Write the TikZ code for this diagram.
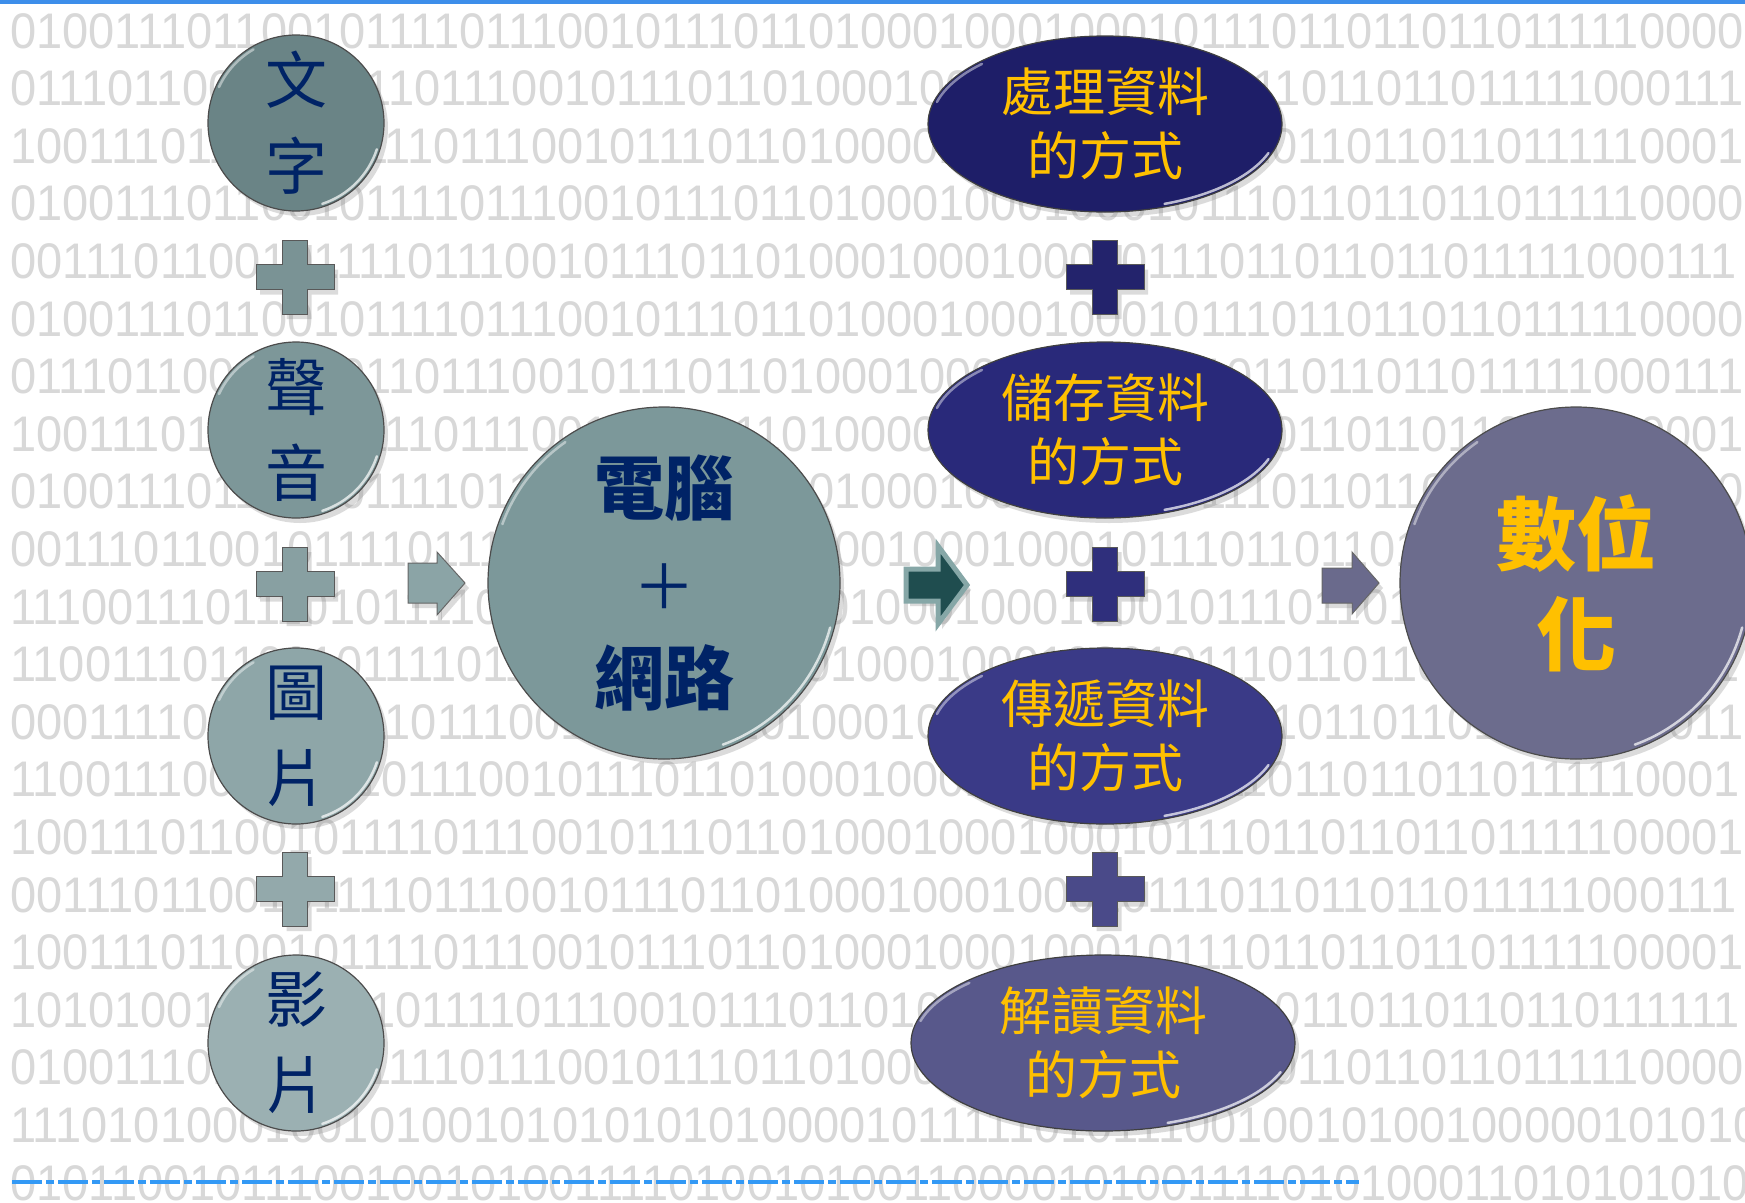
\documentclass[tikz,border=0pt]{standalone}
\usepackage{fontspec}
\newfontfamily\digfont[FakeStretch=0.94]{Liberation Sans}
\newfontfamily\cjk{Noto Sans CJK TC}
\usetikzlibrary{shapes.geometric,shadows}
\definecolor{digitgray}{HTML}{D8D8D8}
\definecolor{navytext}{HTML}{002366}
\definecolor{goldtext}{HTML}{FFC000}
\definecolor{topblue}{HTML}{3D8EEA}
\definecolor{dashblue}{HTML}{3399F5}
\definecolor{lA}{HTML}{6A8486}
\definecolor{pA}{HTML}{7A9395}
\definecolor{lB}{HTML}{7D9799}
\definecolor{pB}{HTML}{88A0A2}
\definecolor{lC}{HTML}{8EA6A8}
\definecolor{pC}{HTML}{93A9AB}
\definecolor{lD}{HTML}{9BB0B2}
\definecolor{bigteal}{HTML}{7C989A}
\definecolor{arrA}{HTML}{8BA4A6}
\definecolor{arrBfill}{HTML}{1F4D4F}
\definecolor{arrBdraw}{HTML}{86A7A7}
\definecolor{rA}{HTML}{1E1E68}
\definecolor{rpA}{HTML}{23236C}
\definecolor{rB}{HTML}{29297A}
\definecolor{rpB}{HTML}{2F2F7C}
\definecolor{rC}{HTML}{3A3A87}
\definecolor{rpC}{HTML}{4A4A89}
\definecolor{rD}{HTML}{58588B}
\definecolor{arrC}{HTML}{6A6A8C}
\definecolor{digcirc}{HTML}{6C6C8D}
\newcommand\mycross[3]{%
  \filldraw[crossbase,fill=#3,shift={(#1,#2)}] (-12.5,-37) -- (12.5,-37) -- (12.5,-12.5) -- (39,-12.5) -- (39,12.5) -- (12.5,12.5) -- (12.5,37) -- (-12.5,37) -- (-12.5,12.5) -- (-39,12.5) -- (-39,-12.5) -- (-12.5,-12.5) -- cycle;}
\tikzset{
  digits/.style={anchor=base west, inner sep=0pt, text=digitgray, font=\digfont\fontsize{50}{50}\selectfont},
  shapeshadow/.style={drop shadow={opacity=0.28, shadow xshift=4pt, shadow yshift=-5pt}},
  lcirc/.style={circle, minimum size=176pt, inner sep=0pt, draw=black!70, line width=1.2pt, shapeshadow, align=center, text=navytext, font=\cjk\fontsize{62}{86}\selectfont},
  bigcirc/.style={circle, minimum size=352pt, inner sep=0pt, draw=black!70, line width=1.2pt, shapeshadow, align=center},
  rell/.style={ellipse, minimum width=354pt, minimum height=176pt, inner sep=0pt, draw=black!75, line width=1.2pt, shapeshadow, align=center, text=goldtext, font=\cjk\fontsize{52}{64}\selectfont},
  rim/.style={draw=white, draw opacity=0.7, line width=2.5pt, line cap=round},
  crossbase/.style={draw=black!65, line width=1pt, shapeshadow},
  blockarrow/.style={draw=black!60, line width=1pt, shapeshadow},
}
\begin{document}
\begin{tikzpicture}[x=1pt,y=-1pt]
\useasboundingbox (0,0) rectangle (1745,1202);
\begin{scope}
\clip (0,0) rectangle (1745,1202);
\fill[white] (0,0) rectangle (1745,1202);
% background binary rows
\foreach \r [count=\k from 0] in {
010011101100101111011100101110110100010001000101110110110110111110000,
011101100101001101110010111011010001000100010111011011011011111000111,
100111011001011110111001011101101000010001000101110110110110111110001,
010011101100101111011100101110110100010001000101110110110110111110000,
001110110010111101110010111011010001000100010111011011011011111000111,
010011101100101111011100101110110100010001000101110110110110111110000,
011101100101001101110010111011010001000100010111011011011011111000111,
100111011001011110111001011101101000010001000101110110110110111110001,
010011101100101111011100101110110100010001000101110110110110111110000,
001110110010111101110010111011010001000100010111011011011011111000111,
111001110111010111101110010111011010001000100010111011011011011111000,
110011101100101111011100101110110100010001000101110110110110111110001,
000111101001011101110010111011010001000100010111011011011011111000011,
110011100101111011100101110110100010001000101110110110110110111110001,
100111011001011110111001011101101000100010001011101101101101111100001,
001110110010111101110010111011010001000100010111011011011011111000111,
100111011001011110111001011101101000100010001011101101101101111100001,
101010011100101011110111001011101101000100010001110110110110110111111,
010011101100101111011100101110110100010001000101110110110110111110000,
111010100010010100101010101010000101111101011100100101001000001010101,
01011001011100100101001111010010100110000101001111010100011010101010}
  \node[digits] (row\k) at (10,{48+57.6*\k}) {\r};
% top rule and bottom dashed rule
\coordinate (tl) at (0,2);
\coordinate (tr) at (1745,2);
\draw[topblue, line width=4pt] (tl) -- (tr);
\coordinate (bl) at (12,1182);
\coordinate (br) at (1359,1182);
\draw[dashblue, line width=4pt, dash pattern=on 30pt off 4pt on 8pt off 4pt] (bl) -- (br);

% left column
\node[lcirc, fill=lA] (wenzi) at (296,123) {文\\字};
\mycross{295}{277}{pA}
\node[lcirc, fill=lB] (shengyin) at (296,430) {聲\\音};
\mycross{295}{584}{pB}
\node[lcirc, fill=lC] (tupian) at (296,736) {圖\\片};
\mycross{295}{889}{pC}
\node[lcirc, fill=lD] (yingpian) at (296,1043) {影\\片};

% arrow 1
\filldraw[blockarrow, fill=arrA] (408,563) -- (437,563) -- (437,552) -- (465,583) -- (437,615) -- (437,603) -- (408,603) -- cycle;

% computer + network
\node[bigcirc, fill=bigteal, text=navytext, font=\cjk\bfseries\fontsize{70}{95}\selectfont] (diannao) at (664,583) {電腦\\{\mdseries\fontsize{62}{95}\selectfont ＋}\\網路};

% arrow 2
\filldraw[fill=arrBfill, draw=arrBdraw, line width=5pt, shapeshadow] (906,569) -- (938,569) -- (938,546) -- (967,585) -- (938,624) -- (938,601) -- (906,601) -- cycle;

% right column
\node[rell, fill=rA] (chuli) at (1105,124) {處理資料\\的方式};
\mycross{1105}{277}{rpA}
\node[rell, fill=rB] (chucun) at (1105,430) {儲存資料\\的方式};
\mycross{1105}{584}{rpB}
\node[rell, fill=rC] (chuandi) at (1105,736) {傳遞資料\\的方式};
\mycross{1105}{889}{rpC}
\node[rell, fill=rD, minimum width=384pt] (jiedu) at (1103,1043) {解讀資料\\的方式};

% arrow 3
\filldraw[blockarrow, fill=arrC] (1322,568) -- (1352,568) -- (1352,552) -- (1379,583) -- (1352,614) -- (1352,603) -- (1322,603) -- cycle;

% digitization
\node[bigcirc, fill=digcirc, text=goldtext, font=\cjk\bfseries\fontsize{80}{100}\selectfont] (shuwei) at (1576,583) {數位\\化};

% bevel highlights
\foreach \n in {wenzi,shengyin,tupian,yingpian} {
  \draw[rim] (\n.center) ++(18:85) arc[start angle=18, end angle=72, radius=85];
  \draw[rim, draw opacity=0.45] (\n.center) ++(205:85) arc[start angle=205, end angle=240, radius=85];
}
\foreach \n in {diannao,shuwei} {
  \draw[rim] (\n.center) ++(15:172) arc[start angle=15, end angle=70, radius=172];
  \draw[rim, draw opacity=0.45] (\n.center) ++(200:172) arc[start angle=200, end angle=235, radius=172];
}
\foreach \n in {chuli,chucun,chuandi} {
  \draw[rim] (\n.center) ++(20:174 and 85) arc[start angle=20, end angle=70, x radius=174, y radius=85];
  \draw[rim, draw opacity=0.45] (\n.center) ++(195:174 and 85) arc[start angle=195, end angle=225, x radius=174, y radius=85];
}
\draw[rim] (jiedu.center) ++(20:189 and 85) arc[start angle=20, end angle=70, x radius=189, y radius=85];
\draw[rim, draw opacity=0.45] (jiedu.center) ++(195:189 and 85) arc[start angle=195, end angle=225, x radius=189, y radius=85];
\end{scope}
\end{tikzpicture}
\end{document}
